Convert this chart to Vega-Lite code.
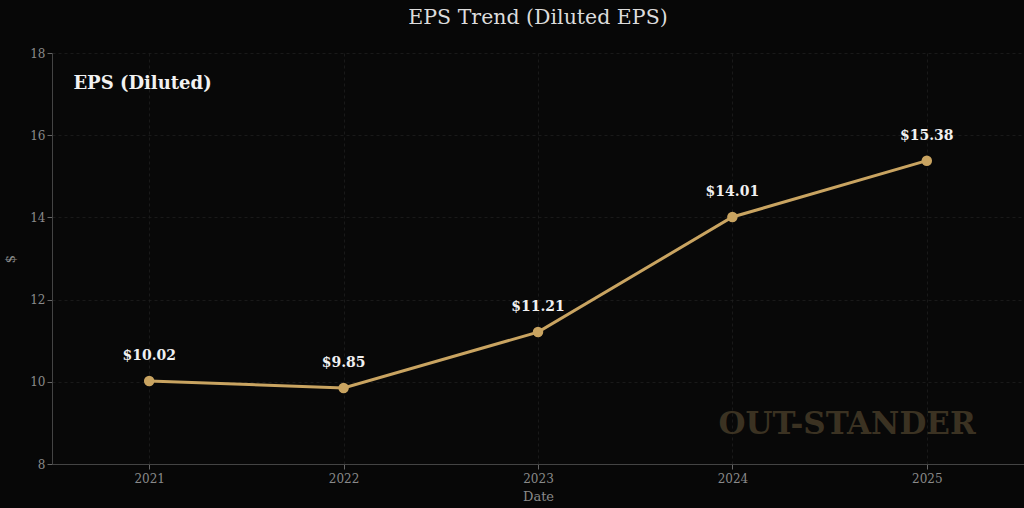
{
  "$schema": "https://vega.github.io/schema/vega-lite/v6.json",
  "width": 972,
  "height": 411,
  "autosize": {"type": "none"},
  "padding": {"left": 52, "top": 53, "right": 0, "bottom": 44},
  "background": "#070707",
  "config": {
    "view": {"stroke": null, "fill": "#080808"},
    "font": "DejaVu Serif",
    "axis": {
      "labelFont": "DejaVu Serif",
      "titleFont": "DejaVu Serif",
      "labelColor": "#8a8a8a",
      "titleColor": "#8a8a8a",
      "labelFontSize": 12,
      "titleFontSize": 13,
      "titleFontWeight": "normal",
      "domainColor": "#444444",
      "tickColor": "#666666",
      "tickSize": 5,
      "gridColor": "#1e1e1e",
      "gridDash": [3, 3],
      "gridWidth": 0.8
    }
  },
  "title": {
    "text": "EPS Trend (Diluted EPS)",
    "font": "DejaVu Serif",
    "fontSize": 20.5,
    "fontWeight": "normal",
    "color": "#dcdcdc",
    "anchor": "middle",
    "offset": 19
  },
  "data": {
    "values": [
      {"year": 2021, "eps": 10.02, "label": "$10.02"},
      {"year": 2022, "eps": 9.85, "label": "$9.85"},
      {"year": 2023, "eps": 11.21, "label": "$11.21"},
      {"year": 2024, "eps": 14.01, "label": "$14.01"},
      {"year": 2025, "eps": 15.38, "label": "$15.38"}
    ]
  },
  "encoding": {
    "x": {
      "field": "year",
      "type": "quantitative",
      "scale": {"domain": [2020.5, 2025.5], "nice": false, "zero": false},
      "axis": {"values": [2021, 2022, 2023, 2024, 2025], "format": "d", "title": "Date", "labelPadding": 4, "titlePadding": 6}
    },
    "y": {
      "field": "eps",
      "type": "quantitative",
      "scale": {"domain": [8, 18], "nice": false, "zero": false},
      "axis": {"values": [8, 10, 12, 14, 16, 18], "title": "$", "titlePadding": 12}
    }
  },
  "layer": [
    {
      "mark": {"type": "line", "color": "#c9a461", "strokeWidth": 3}
    },
    {
      "mark": {"type": "point", "filled": true, "color": "#c9a461", "size": 110, "opacity": 1}
    },
    {
      "mark": {"type": "text", "dy": -25, "fontSize": 14, "fontWeight": "bold", "color": "#f0f0f0", "font": "DejaVu Serif"},
      "encoding": {"text": {"field": "label"}}
    },
    {
      "data": {"values": [{"x": 2020.61, "y": 17.25, "t": "EPS (Diluted)"}]},
      "mark": {"type": "text", "align": "left", "baseline": "middle", "fontSize": 18, "fontWeight": "bold", "color": "#f2f2f2", "font": "DejaVu Serif"},
      "encoding": {
        "x": {"field": "x", "type": "quantitative"},
        "y": {"field": "y", "type": "quantitative"},
        "text": {"field": "t"}
      }
    },
    {
      "data": {"values": [{"x": 2024.59, "y": 8.95, "t": "OUT-STANDER"}]},
      "mark": {"type": "text", "align": "center", "baseline": "middle", "fontSize": 31, "fontWeight": "bold", "color": "#3b3222", "font": "DejaVu Serif"},
      "encoding": {
        "x": {"field": "x", "type": "quantitative"},
        "y": {"field": "y", "type": "quantitative"},
        "text": {"field": "t"}
      }
    }
  ]
}
